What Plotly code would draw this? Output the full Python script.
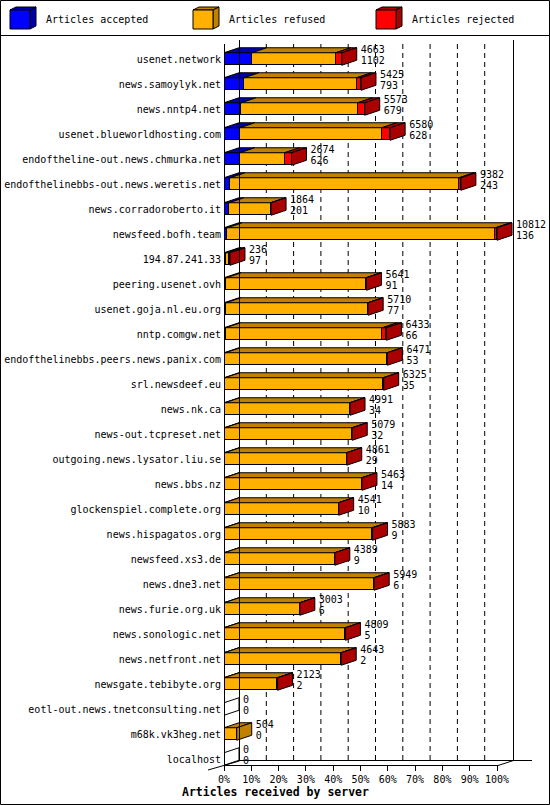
import plotly.graph_objects as go

# ---------------- data ----------------
servers = ["usenet.network", "news.samoylyk.net", "news.nntp4.net", "usenet.blueworldhosting.com",
           "endoftheline-out.news.chmurka.net", "endofthelinebbs-out.news.weretis.net",
           "news.corradoroberto.it", "newsfeed.bofh.team", "194.87.241.33", "peering.usenet.ovh",
           "usenet.goja.nl.eu.org", "nntp.comgw.net", "endofthelinebbs.peers.news.panix.com",
           "srl.newsdeef.eu", "news.nk.ca", "news-out.tcpreset.net", "outgoing.news.lysator.liu.se",
           "news.bbs.nz", "glockenspiel.complete.org", "news.hispagatos.org", "newsfeed.xs3.de",
           "news.dne3.net", "news.furie.org.uk", "news.sonologic.net", "news.netfront.net",
           "newsgate.tebibyte.org", "eotl-out.news.tnetconsulting.net", "m68k.vk3heg.net", "localhost"]
total_offered = [4663, 5425, 5573, 6580, 2674, 9382, 1864, 10812, 236, 5641, 5710, 6433, 6471, 6325,
                 4991, 5079, 4861, 5463, 4541, 5883, 4389, 5949, 3003, 4809, 4643, 2123, 0, 504, 0]
accepted = [1102, 793, 679, 628, 626, 243, 201, 136, 97, 91, 77, 66, 53, 35, 34, 32, 29, 14, 10, 9, 9,
            6, 6, 5, 2, 2, 0, 0, 0]
rejected = [238, 172, 277, 330, 277, 70, 15, 60, 20, 12, 8, 160, 8, 20, 6, 6, 6, 6, 6, 15, 6, 20, 6,
            6, 6, 6, 0, 0, 0]
refused = [t - a - r for t, a, r in zip(total_offered, accepted, rejected)]
pct_ticks = list(range(0, 101, 10))
pct_labels = [f"{v}%" for v in pct_ticks]
series_names = ["Articles accepted", "Articles refused", "Articles rejected"]

# ---------------- style ----------------
FONT = "DejaVu Sans Mono"
front_col = ["#0000FF", "#FFB000", "#FF0000"]
dark_col = ["#0000B0", "#C08000", "#AA0000"]

W, H = 550, 805
L, R, T, B = 224, 549, 40, 765          # plot area in pixels
PX_PER_X = 2.73                           # pixels per percent
PX_PER_ROW = 25.0
ROW0 = 59                                 # pixel centre of first row
x_range = [0, (R - L) / PX_PER_X]
y_range = [(B - ROW0) / PX_PER_ROW, (T - ROW0) / PX_PER_ROW]
DX = 15 / PX_PER_X                        # depth offset in data units
DY = 5 / PX_PER_ROW
BH = 12.5 / PX_PER_ROW                    # bar front height

maxv = max(total_offered)
to_pct = lambda v: v / maxv * 100.0
n = len(servers)
rows = list(range(n))
acc_p = [to_pct(v) for v in accepted]
ref_p = [to_pct(v) for v in refused]
rej_p = [to_pct(v) for v in rejected]
tot_p = [to_pct(v) for v in total_offered]

def px(x):
    return (x - L) / (R - L)

def py(y):
    return (B - y) / (B - T)

fig = go.Figure()

# front faces
for vals, col, name in zip([acc_p, ref_p, rej_p], front_col, series_names):
    fig.add_trace(go.Bar(y=rows, x=vals, orientation="h", width=BH, name=name,
                         marker=dict(color=col, line=dict(color="black", width=1)),
                         showlegend=False, hoverinfo="skip"))

# top faces and side faces
tops = [dict(x=[], y=[]) for _ in range(3)]
sides = [dict(x=[], y=[]) for _ in range(3)]
empty = dict(x=[], y=[])
for i in rows:
    yt, yb = i - BH / 2, i + BH / 2
    segs = [(0, acc_p[i]), (acc_p[i], acc_p[i] + ref_p[i]), (acc_p[i] + ref_p[i], tot_p[i])]
    last = None
    for k, (x0, x1) in enumerate(segs):
        if x1 - x0 > 0:
            last = k
            tops[k]["x"] += [x0, x1, x1 + DX, x0 + DX, x0, None]
            tops[k]["y"] += [yt, yt, yt - DY, yt - DY, yt, None]
    xe = tot_p[i]
    poly_x = [xe, xe + DX, xe + DX, xe, xe, None]
    poly_y = [yt, yt - DY, yb - DY, yb, yt, None]
    if last is None:
        empty["x"] += poly_x
        empty["y"] += poly_y
    else:
        sides[last]["x"] += poly_x
        sides[last]["y"] += poly_y

for k in range(3):
    for d in (tops[k], sides[k]):
        fig.add_trace(go.Scatter(x=d["x"], y=d["y"], mode="lines", fill="toself",
                                 fillcolor=dark_col[k], line=dict(color="black", width=1),
                                 showlegend=False, hoverinfo="skip"))
fig.add_trace(go.Scatter(x=empty["x"], y=empty["y"], mode="lines",
                         line=dict(color="black", width=1), showlegend=False, hoverinfo="skip"))

# value labels
lab_x = [t + DX + 4 / PX_PER_X for t in tot_p]
fig.add_trace(go.Scatter(x=lab_x, y=[i - 9 / PX_PER_ROW for i in rows], mode="text",
                         text=[str(v) for v in total_offered], textposition="middle right",
                         textfont=dict(family=FONT, size=10, color="black"),
                         cliponaxis=False, showlegend=False, hoverinfo="skip"))
fig.add_trace(go.Scatter(x=lab_x, y=[i + 2 / PX_PER_ROW for i in rows], mode="text",
                         text=[str(v) for v in accepted], textposition="middle right",
                         textfont=dict(family=FONT, size=10, color="black"),
                         cliponaxis=False, showlegend=False, hoverinfo="skip"))

shapes = []
# dashed gridlines on back wall
for v in pct_ticks[1:-1]:
    shapes.append(dict(type="line", xref="x", yref="paper", x0=v + DX, x1=v + DX,
                       y0=py(760), y1=1, layer="below",
                       line=dict(color="black", width=1, dash="5px,4px")))

def pline(x0, y0, x1, y1):
    shapes.append(dict(type="line", xref="paper", yref="paper", x0=px(x0), y0=py(y0),
                       x1=px(x1), y1=py(y1), line=dict(color="black", width=1), layer="above"))

# walls and floor
pline(224.5, 44, 224.5, 766)
pline(239.5, 40, 239.5, 761)
pline(513.5, 40, 513.5, 761)
pline(239.5, 760.5, 532, 760.5)
pline(224.5, 765.5, 498, 765.5)
pline(208, 770, 239.5, 761)
pline(498, 765.5, 513.5, 760.5)
# frame and legend separator
shapes.append(dict(type="rect", xref="paper", yref="paper", x0=px(0.5), x1=px(549.5),
                   y0=py(804.5), y1=py(0.5), line=dict(color="black", width=1)))
pline(0, 35.5, 550, 35.5)

# legend cubes
annotations = []
leg_x = [10, 193, 376]
for k in range(3):
    x0 = leg_x[k]
    fx0, fx1, fy0, fy1, ddx, ddy = x0, x0 + 20, 10, 29, 6, 3
    shapes.append(dict(type="path", xref="paper", yref="paper",
                       path=f"M{px(fx0)},{py(fy0)} L{px(fx1)},{py(fy0)} L{px(fx1+ddx)},{py(fy0-ddy)} "
                            f"L{px(fx0+ddx)},{py(fy0-ddy)} Z",
                       fillcolor=dark_col[k], line=dict(color="black", width=1)))
    shapes.append(dict(type="path", xref="paper", yref="paper",
                       path=f"M{px(fx1)},{py(fy0)} L{px(fx1+ddx)},{py(fy0-ddy)} L{px(fx1+ddx)},{py(fy1-ddy)} "
                            f"L{px(fx1)},{py(fy1)} Z",
                       fillcolor=dark_col[k], line=dict(color="black", width=1)))
    shapes.append(dict(type="rect", xref="paper", yref="paper", x0=px(fx0), x1=px(fx1),
                       y0=py(fy1), y1=py(fy0), fillcolor=front_col[k],
                       line=dict(color="black", width=1)))
    annotations.append(dict(xref="paper", yref="paper", x=px(x0 + 34), y=py(20),
                            xanchor="left", yanchor="middle", showarrow=False,
                            text=series_names[k], font=dict(family=FONT, size=10, color="black")))

annotations.append(dict(xref="paper", yref="paper", x=px(275), y=py(792), xanchor="center",
                        yanchor="middle", showarrow=False, text="<b>Articles received by server</b>",
                        font=dict(family=FONT, size=11.5, color="black")))

fig.update_layout(
    width=W, height=H, margin=dict(l=L, r=W - R, t=T, b=H - B),
    paper_bgcolor="white", plot_bgcolor="white", barmode="stack", bargap=0,
    showlegend=False, shapes=shapes, annotations=annotations,
    font=dict(family=FONT, size=10, color="black"),
    xaxis=dict(range=x_range, tickvals=pct_ticks, ticktext=pct_labels, ticks="outside",
               ticklen=5, tickcolor="black", showgrid=False, zeroline=False, showline=False,
               tickfont=dict(family=FONT, size=10, color="black")),
    yaxis=dict(range=y_range, tickvals=rows, ticktext=servers, ticks="", showgrid=False,
               zeroline=False, showline=False, ticklabelstandoff=2,
               tickfont=dict(family=FONT, size=10, color="black")),
)

fig.write_html("out.html")
